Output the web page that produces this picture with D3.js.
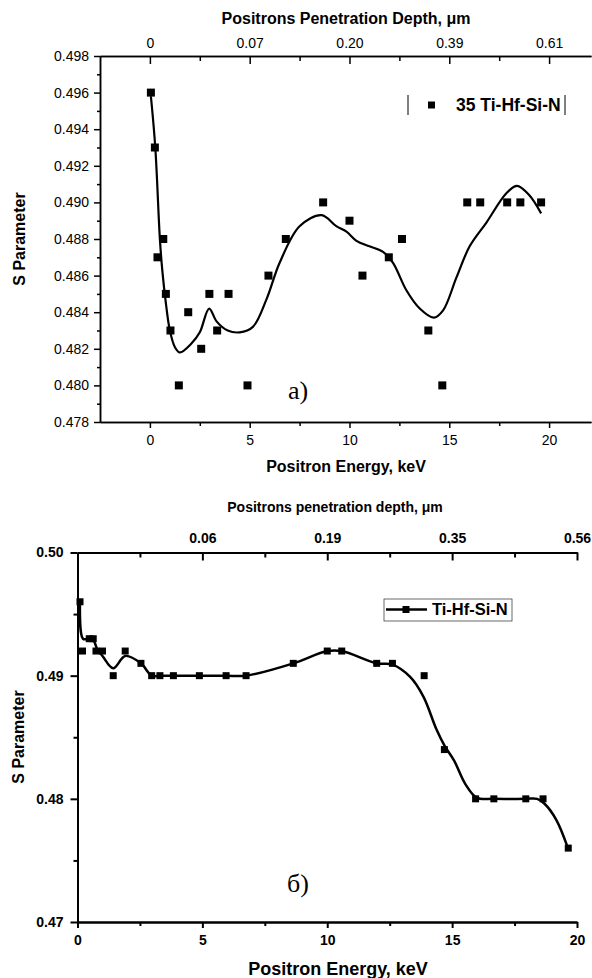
<!DOCTYPE html>
<html><head><meta charset="utf-8">
<script src="https://cdn.jsdelivr.net/npm/d3@7"></script>
<style>
html,body{margin:0;padding:0;background:#fff;}
svg{display:block;}
text{font-family:"Liberation Sans", Arial, sans-serif;fill:#000;}
</style></head><body>
<svg id="chart" width="592" height="978"></svg>
<script>
// ---- Panel a) : 35 Ti-Hf-Si-N, measured points and fitted curve ----
const energyA = [0.05, 0.25, 0.38, 0.67, 0.80, 1.03, 1.45, 1.92, 2.57, 2.98, 3.37, 3.94, 4.89, 5.94, 6.81,
                 8.68, 10.0, 10.65, 11.97, 12.63, 13.95, 14.65, 15.9, 16.55, 17.9, 18.56, 19.6];
const sParamA = [0.496, 0.493, 0.487, 0.488, 0.485, 0.483, 0.480, 0.484, 0.482, 0.485, 0.483, 0.485, 0.480, 0.486, 0.488,
                 0.490, 0.489, 0.486, 0.487, 0.488, 0.483, 0.480, 0.490, 0.490, 0.490, 0.490, 0.490];
const fitEnergyA = [0.05, 0.27, 0.5, 0.62, 0.8, 1.0, 1.25, 1.5, 2.09, 2.5, 2.97, 3.34, 3.9, 4.5, 5.16, 5.84, 6.5,
                    7.5, 8.6, 9.34, 9.85, 10.35, 11.0, 11.68, 12.18, 12.85, 13.52, 14.22, 14.69, 15.36, 16.02,
                    16.86, 17.86, 18.39, 19.0, 19.6];
const fitSA = [0.4958, 0.4930, 0.4880, 0.4863, 0.4845, 0.4830, 0.4821, 0.4818, 0.4823, 0.4829, 0.4842, 0.4835,
               0.4830, 0.4829, 0.4832, 0.4847, 0.4867, 0.4887, 0.4893, 0.4887, 0.4884, 0.4879, 0.4876, 0.4873,
               0.4867, 0.4852, 0.4842, 0.4837, 0.4841, 0.4859, 0.4876, 0.4889, 0.4905, 0.4909, 0.4904, 0.4894];
const depthLabelsA = ["0", "0.07", "0.20", "0.39", "0.61"];
const sTicksA = [0.478, 0.480, 0.482, 0.484, 0.486, 0.488, 0.490, 0.492, 0.494, 0.496, 0.498];

// ---- Panel б) : Ti-Hf-Si-N, points joined by a smooth line ----
const energyB = [0.1, 0.2, 0.47, 0.63, 0.74, 1.0, 1.43, 1.91, 2.54, 2.97, 3.3, 3.84, 4.88, 5.95, 6.75,
                 8.64, 10.0, 10.58, 11.98, 12.61, 13.88, 14.69, 15.94, 16.67, 17.95, 18.64, 19.65];
const sParamB = [0.496, 0.492, 0.493, 0.493, 0.492, 0.492, 0.490, 0.492, 0.491, 0.490, 0.490, 0.490, 0.490, 0.490, 0.490,
                 0.491, 0.492, 0.492, 0.491, 0.491, 0.490, 0.484, 0.480, 0.480, 0.480, 0.480, 0.476];
const lineEnergyB = [0.1, 0.22, 0.47, 0.63, 0.8, 1.0, 1.43, 1.91, 2.54, 2.97, 3.3, 3.84, 4.88, 5.95, 6.75,
                     8.64, 10.0, 10.58, 11.98, 12.61, 13.32, 13.85, 14.38, 14.7, 15.08, 15.53, 15.98, 16.67,
                     17.95, 18.4, 18.7, 19.17, 19.62];
const lineSB = [0.4960, 0.4930, 0.4930, 0.4929, 0.4921, 0.4916, 0.4906, 0.4916, 0.4910, 0.4900, 0.4900, 0.4900,
                0.4900, 0.4900, 0.4900, 0.4910, 0.4920, 0.4920, 0.4910, 0.4909, 0.4899, 0.4883, 0.4856, 0.4843,
                0.4831, 0.4812, 0.4801, 0.4800, 0.4800, 0.4800, 0.4796, 0.4783, 0.4761];
const depthLabelsB = ["0.06", "0.19", "0.35", "0.56"];
const sTicksB = [0.47, 0.48, 0.49, 0.50];

const energyTicks = [0, 5, 10, 15, 20];

const svg = d3.select("#chart");

function styleAxis(g, w) {
  g.select(".domain").attr("stroke", "#000").attr("stroke-width", w);
  g.selectAll(".tick line").attr("stroke", "#000").attr("stroke-width", w);
  g.selectAll(".tick text").attr("fill", "#000");
}

// ================= Panel a) =================
{
  const x = d3.scaleLinear().domain([-2.5, 22.1]).range([100, 591]);
  const y = d3.scaleLinear().domain([0.478, 0.498]).range([422, 56]);
  const g = svg.append("g");
  const minorX = d3.range(-2.5, 22.1, 2.5).filter(v => v % 5 !== 0 && v > -2.5);
  const minorY = d3.range(0.479, 0.498, 0.002);

  // bottom axis
  g.append("g").attr("transform", `translate(0,${y(0.478)})`)
    .call(d3.axisBottom(x).tickValues(minorX).tickSize(4).tickFormat("").tickSizeOuter(0))
    .call(s => styleAxis(s, 1.5));
  g.append("g").attr("transform", `translate(0,${y(0.478)})`)
    .call(d3.axisBottom(x).tickValues(energyTicks).tickSize(6).tickPadding(7).tickSizeOuter(0).tickFormat(d3.format("d")))
    .call(s => styleAxis(s, 1.5))
    .selectAll("text").style("font-size", "14px");

  // top axis (penetration depth)
  g.append("g").attr("transform", `translate(0,${y(0.498)})`)
    .call(d3.axisTop(x).tickValues(minorX).tickSize(-5).tickFormat("").tickSizeOuter(0))
    .call(s => styleAxis(s, 1.5));
  g.append("g").attr("transform", `translate(0,${y(0.498)})`)
    .call(d3.axisTop(x).tickValues(energyTicks).tickSize(-8).tickPadding(8).tickSizeOuter(0)
      .tickFormat((d, i) => depthLabelsA[i]))
    .call(s => styleAxis(s, 1.5))
    .selectAll("text").style("font-size", "14px");

  // left axis
  g.append("g").attr("transform", `translate(${x(-2.5)},0)`)
    .call(d3.axisLeft(y).tickValues(minorY).tickSize(3).tickFormat("").tickSizeOuter(0))
    .call(s => styleAxis(s, 1.5));
  g.append("g").attr("transform", `translate(${x(-2.5)},0)`)
    .call(d3.axisLeft(y).tickValues(sTicksA).tickSize(6).tickPadding(5).tickSizeOuter(0).tickFormat(d3.format(".3f")))
    .call(s => styleAxis(s, 1.5))
    .selectAll("text").style("font-size", "14px");

  // titles
  g.append("text").attr("x", 346).attr("y", 24).attr("text-anchor", "middle")
    .style("font-size", "16px").style("font-weight", "bold").text("Positrons Penetration Depth, μm");
  g.append("text").attr("x", 346).attr("y", 472).attr("text-anchor", "middle")
    .style("font-size", "16px").style("font-weight", "bold").text("Positron Energy, keV");
  g.append("text").attr("transform", "translate(25,239) rotate(-90)").attr("text-anchor", "middle")
    .style("font-size", "16px").style("font-weight", "bold").text("S Parameter");

  // fitted curve
  const fit = fitEnergyA.map((e, i) => [e, fitSA[i]]);
  g.append("path").datum(fit)
    .attr("fill", "none").attr("stroke", "#000").attr("stroke-width", 2.2)
    .attr("d", d3.line().x(d => x(d[0])).y(d => y(d[1])).curve(d3.curveCatmullRom.alpha(0.5)));

  // points
  const pts = energyA.map((e, i) => [e, sParamA[i]]);
  const ms = 8;
  g.append("g").selectAll("rect").data(pts).join("rect")
    .attr("x", d => x(d[0]) - ms / 2).attr("y", d => y(d[1]) - ms / 2)
    .attr("width", ms).attr("height", ms).attr("fill", "#000");

  // legend
  g.append("line").attr("x1", 408).attr("x2", 408).attr("y1", 95).attr("y2", 115).attr("stroke", "#000").attr("stroke-width", 1);
  g.append("line").attr("x1", 565).attr("x2", 565).attr("y1", 95).attr("y2", 115).attr("stroke", "#000").attr("stroke-width", 1);
  g.append("rect").attr("x", 428).attr("y", 101.5).attr("width", 7).attr("height", 7).attr("fill", "#000");
  g.append("text").attr("x", 456).attr("y", 111).style("font-size", "17.5px").style("font-weight", "bold").text("35 Ti-Hf-Si-N");

  // panel label
  g.append("text").attr("x", 288).attr("y", 399).style("font-family", "'Liberation Serif', 'Times New Roman', serif")
    .style("font-size", "26px").text("a)");
}

// ================= Panel б) =================
{
  const x = d3.scaleLinear().domain([0, 20]).range([77.5, 577]);
  const y = d3.scaleLinear().domain([0.47, 0.50]).range([922, 552.5]);
  const g = svg.append("g");
  const minorX = [2.5, 7.5, 12.5, 17.5];
  const minorY = [0.475, 0.485, 0.495];

  // bottom axis
  g.append("g").attr("transform", `translate(0,${y(0.47)})`)
    .call(d3.axisBottom(x).tickValues(minorX).tickSize(4).tickFormat("").tickSizeOuter(0))
    .call(s => styleAxis(s, 2));
  g.append("g").attr("transform", `translate(0,${y(0.47)})`)
    .call(d3.axisBottom(x).tickValues(energyTicks).tickSize(6).tickPadding(7).tickSizeOuter(0).tickFormat(d3.format("d")))
    .call(s => styleAxis(s, 2))
    .selectAll("text").style("font-size", "14px").style("font-weight", "bold");

  // top axis (penetration depth)
  g.append("g").attr("transform", `translate(0,${y(0.50)})`)
    .call(d3.axisTop(x).tickValues([0].concat(minorX)).tickSize(-5).tickFormat("").tickSizeOuter(0))
    .call(s => styleAxis(s, 2));
  g.append("g").attr("transform", `translate(0,${y(0.50)})`)
    .call(d3.axisTop(x).tickValues(energyTicks.slice(1)).tickSize(-8).tickPadding(10).tickSizeOuter(0)
      .tickFormat((d, i) => depthLabelsB[i]))
    .call(s => styleAxis(s, 2))
    .selectAll("text").style("font-size", "14px").style("font-weight", "bold");

  // left axis
  g.append("g").attr("transform", `translate(${x(0)},0)`)
    .call(d3.axisLeft(y).tickValues(minorY).tickSize(4).tickFormat("").tickSizeOuter(0))
    .call(s => styleAxis(s, 2));
  g.append("g").attr("transform", `translate(${x(0)},0)`)
    .call(d3.axisLeft(y).tickValues(sTicksB).tickSize(7).tickPadding(7).tickSizeOuter(0).tickFormat(d3.format(".2f")))
    .call(s => styleAxis(s, 2))
    .selectAll("text").style("font-size", "14px").style("font-weight", "bold");

  // titles
  g.append("text").attr("x", 335).attr("y", 512).attr("text-anchor", "middle")
    .style("font-size", "14px").style("font-weight", "bold").text("Positrons penetration depth, μm");
  g.append("text").attr("x", 338).attr("y", 975).attr("text-anchor", "middle")
    .style("font-size", "18px").style("font-weight", "bold").text("Positron Energy, keV");
  g.append("text").attr("transform", "translate(24,737) rotate(-90)").attr("text-anchor", "middle")
    .style("font-size", "16px").style("font-weight", "bold").text("S Parameter");

  // smooth line
  const ln = lineEnergyB.map((e, i) => [e, lineSB[i]]);
  g.append("path").datum(ln)
    .attr("fill", "none").attr("stroke", "#000").attr("stroke-width", 2.5)
    .attr("d", d3.line().x(d => x(d[0])).y(d => y(d[1])).curve(d3.curveCatmullRom.alpha(0.5)));

  // points
  const pts = energyB.map((e, i) => [e, sParamB[i]]);
  const ms = 7;
  g.append("g").selectAll("rect").data(pts).join("rect")
    .attr("x", d => x(d[0]) - ms / 2).attr("y", d => y(d[1]) - ms / 2)
    .attr("width", ms).attr("height", ms).attr("fill", "#000");

  // legend
  g.append("rect").attr("x", 384).attr("y", 599).attr("width", 128).attr("height", 22)
    .attr("fill", "none").attr("stroke", "#444").attr("stroke-width", 0.8);
  g.append("line").attr("x1", 386).attr("x2", 427).attr("y1", 609.5).attr("y2", 609.5).attr("stroke", "#000").attr("stroke-width", 2.5);
  g.append("rect").attr("x", 402.5).attr("y", 606).attr("width", 7).attr("height", 7).attr("fill", "#000");
  g.append("text").attr("x", 432).attr("y", 615).style("font-size", "16.5px").style("font-weight", "bold").text("Ti-Hf-Si-N");

  // panel label
  g.append("text").attr("x", 287).attr("y", 892).style("font-family", "'Liberation Serif', 'Times New Roman', serif")
    .style("font-size", "26px").text("б)");
}
</script>
</body></html>
